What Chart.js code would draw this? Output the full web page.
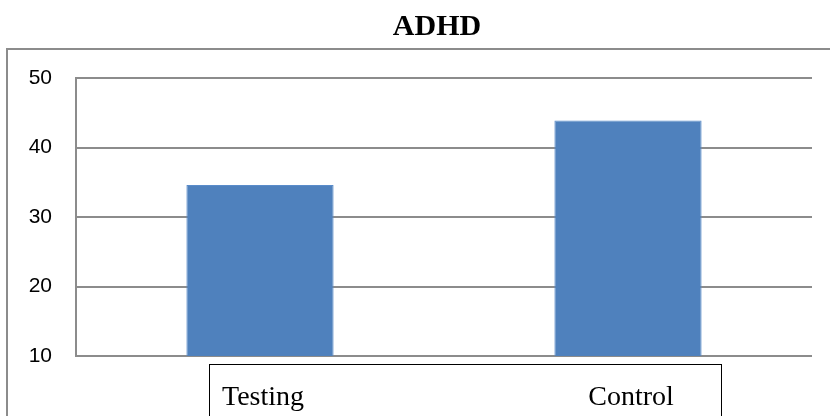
<!DOCTYPE html>
<html>
<head>
<meta charset="utf-8">
<style>
  body { margin: 0; background: #fff; }
  #wrap { width: 830px; height: 416px; }
</style>
<script src="https://cdn.jsdelivr.net/npm/chart.js@4.4.0/dist/chart.umd.min.js"></script>
</head>
<body>
<div id="wrap"><canvas id="canvas" width="830" height="416"></canvas></div>
<script>
    var chartTitle = 'ADHD';
    var groups = ['Testing', 'Control'];
    var scores = [34.6, 43.9];
    var yTicks = [10, 20, 30, 40, 50];

    var gridGray = '#8c8c8c';

    // frame, title and the boxed category labels of the original
    var decor = {
        id: 'decor',
        afterDraw: function(chart) {
            var ctx = chart.ctx, a = chart.chartArea;
            ctx.save();
            ctx.strokeStyle = gridGray;
            ctx.lineWidth = 2;
            ctx.strokeRect(7, 49, 840, 400);
            ctx.strokeStyle = '#000';
            ctx.lineWidth = 1;
            ctx.strokeRect(a.left + 133.5, a.bottom + 8.5, 512, 60);
            ctx.fillStyle = '#000';
            ctx.font = 'bold 30px "Liberation Serif"';
            ctx.textAlign = 'center';
            ctx.textBaseline = 'alphabetic';
            ctx.fillText(chartTitle, 437, 35);
            ctx.restore();
        }
    };

    var config = {
        type: 'bar',
        data: {
            labels: groups,
            datasets: [{
                label: chartTitle,
                data: scores,
                backgroundColor: '#4f81bd',
                borderColor: '#5a8cca',
                borderWidth: 1,
                barPercentage: 0.4,
                categoryPercentage: 1
            }]
        },
        options: {
            responsive: false,
            animation: false,
            layout: {padding: {top: 78, right: 18, bottom: 0, left: 0}},
            plugins: {legend: {display: false}, title: {display: false}, tooltip: {enabled: false}},
            scales: {
                x: {
                    grid: {display: false},
                    border: {display: false},
                    afterFit: function(s) { s.height = 60; },
                    ticks: {
                        color: '#000',
                        padding: 17,
                        labelOffset: 3,
                        font: {family: '"Liberation Serif"', size: 28}
                    }
                },
                y: {
                    min: 10,
                    max: 50,
                    afterFit: function(s) { s.width = 76; },
                    afterBuildTicks: function(s) { s.ticks = yTicks.map(function(v) { return {value: v}; }); },
                    grid: {color: gridGray, lineWidth: 2, drawTicks: false},
                    border: {display: true, color: gridGray, width: 2},
                    ticks: {
                        color: '#000',
                        padding: 24,
                        font: {family: '"Liberation Sans"', size: 21}
                    }
                }
            }
        },
        plugins: [decor]
    };

    window.onload = function() {
        window.myBar = new Chart(document.getElementById('canvas'), config);
    };
</script>
</body>
</html>
